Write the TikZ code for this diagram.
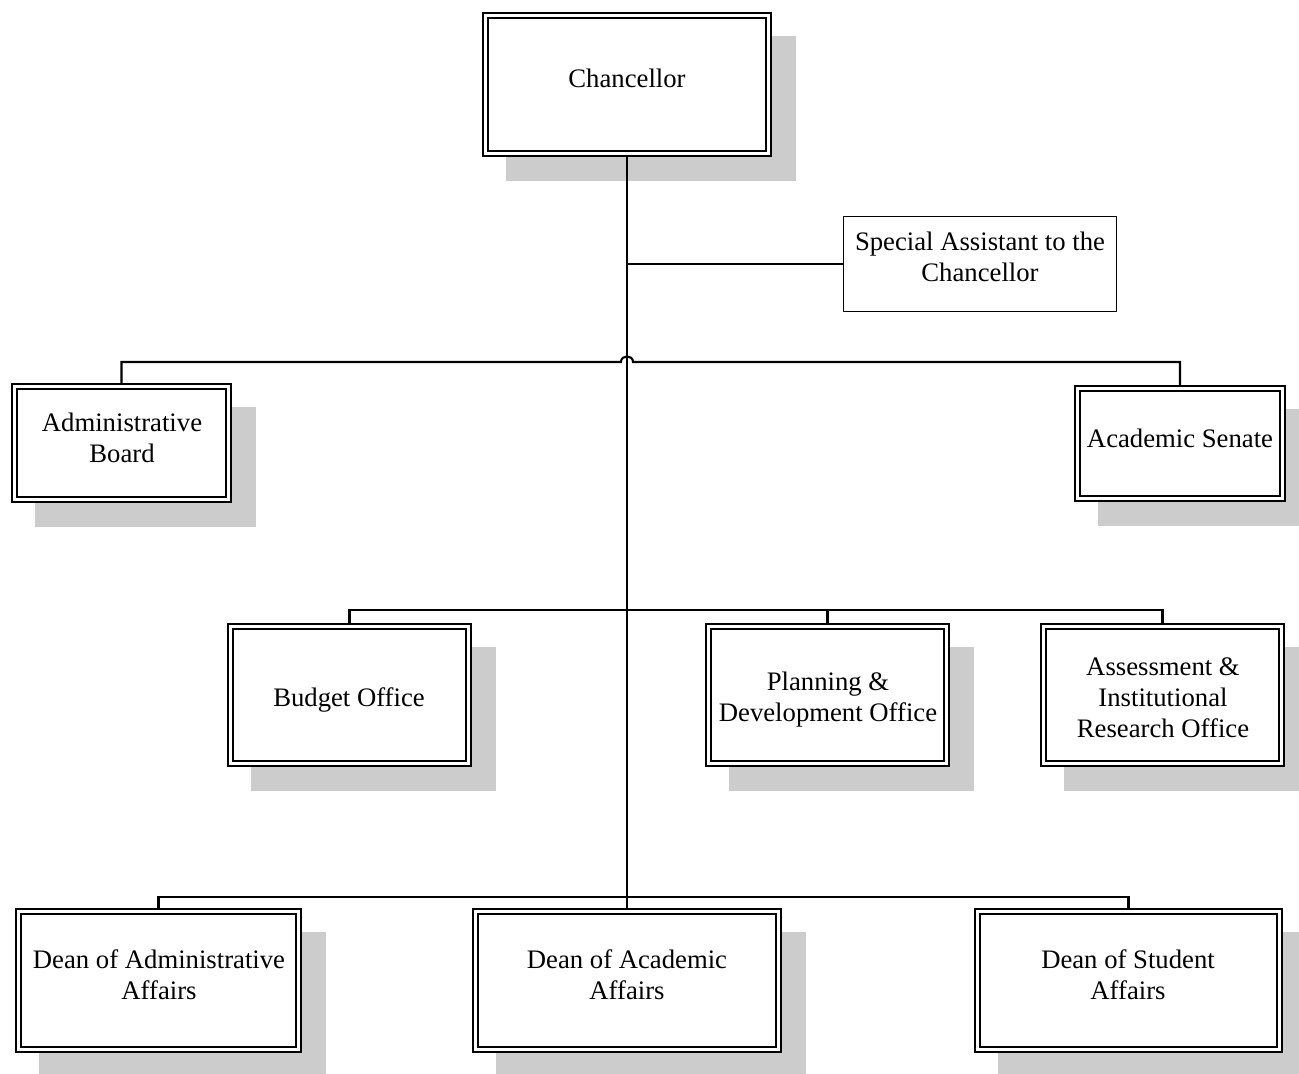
\documentclass[tikz,border=0pt]{standalone}
\usepackage{fontspec}
\setmainfont{Liberation Serif}
\pgfdeclarelayer{shadow}
\pgfdeclarelayer{conn}
\pgfsetlayers{shadow,conn,main}
\definecolor{shadowgray}{HTML}{CCCCCC}
\tikzset{
  dbox/.style={draw=black, fill=white, double=white, line width=1.9pt, double distance=2.8pt, inner sep=0pt, outer sep=0pt},
  sbox/.style={draw=black, fill=white, line width=1.5pt, inner sep=0pt, outer sep=0pt},
  lbl/.style={font=\fontsize{26.7}{31}\selectfont, align=center, inner sep=0pt, anchor=center},
  conn/.style={draw=black, line width=2.1pt},
}
\newcommand\orgbox[5]{%
  \begin{pgfonlayer}{shadow}
    \fill[shadowgray] ({#2+24},{#3+24}) rectangle ({#4+24},{#5+24});
  \end{pgfonlayer}
  \node[dbox, minimum width={#4-#2-6.6}, minimum height={#5-#3-6.6}] (#1) at ({(#2+#4)/2},{(#3+#5)/2}) {};
}
\begin{document}
\begin{tikzpicture}[x=1pt,y=-1pt]
\useasboundingbox (0,0) rectangle (1299,1074);
% boxes
\orgbox{chan}{482}{12}{772}{157}
\orgbox{adm}{11}{383}{232}{503}
\orgbox{sen}{1074}{385}{1286}{502}
\orgbox{bud}{227}{623}{472}{767}
\orgbox{pla}{705}{623}{950}{767}
\orgbox{ass}{1040}{623}{1285}{767}
\orgbox{dadm}{15}{908}{302}{1053}
\orgbox{dac}{472}{908}{782}{1053}
\orgbox{dst}{974}{908}{1283}{1053}
\node[sbox, minimum width=273, minimum height=95] (sa) at (980,264) {};
% labels
\node[lbl] (tchan) at (627,78) {Chancellor};
\node[lbl] (tsa) at (980,257) {Special Assistant to the\\Chancellor};
\node[lbl] (tadm) at (122,437.5) {Administrative\\Board};
\node[lbl] (tsen) at (1180,438) {Academic Senate};
\node[lbl] (tbud) at (349,700) {Budget Office};
\node[lbl] (tpla) at (828,700) {Planning \&\\Development Office};
\node[lbl] (tass) at (1163,697.5) {Assessment \&\\Institutional\\Research Office};
\node[lbl] (tdadm) at (159,974.5) {Dean of Administrative\\Affairs};
\node[lbl] (tdac) at (627,974.5) {Dean of Academic\\Affairs};
\node[lbl] (tdst) at (1128,974.5) {Dean of Student\\Affairs};
% connectors
\coordinate (bus2) at (627,362);
\coordinate (bus3) at (627,610);
\coordinate (bus4) at (627,897);
\begin{pgfonlayer}{conn}
\draw[conn] (chan.south) -- (dac.north);
\draw[conn] (chan.south |- sa.west) -- (sa.west);
\draw[conn] (adm.north) -- (adm.north |- bus2) -- ([xshift=-6pt]bus2)
  .. controls ([shift={(-6,-7.5)}]bus2) and ([shift={(6,-7.5)}]bus2) .. ([xshift=6pt]bus2)
  -- (sen.north |- bus2) -- (sen.north);
\draw[conn] (bud.north) |- (ass.north |- bus3) -- (ass.north);
\draw[conn] (pla.north) -- (pla.north |- bus3);
\draw[conn] (dadm.north) |- (dst.north |- bus4) -- (dst.north);
\end{pgfonlayer}
\end{tikzpicture}
\end{document}
